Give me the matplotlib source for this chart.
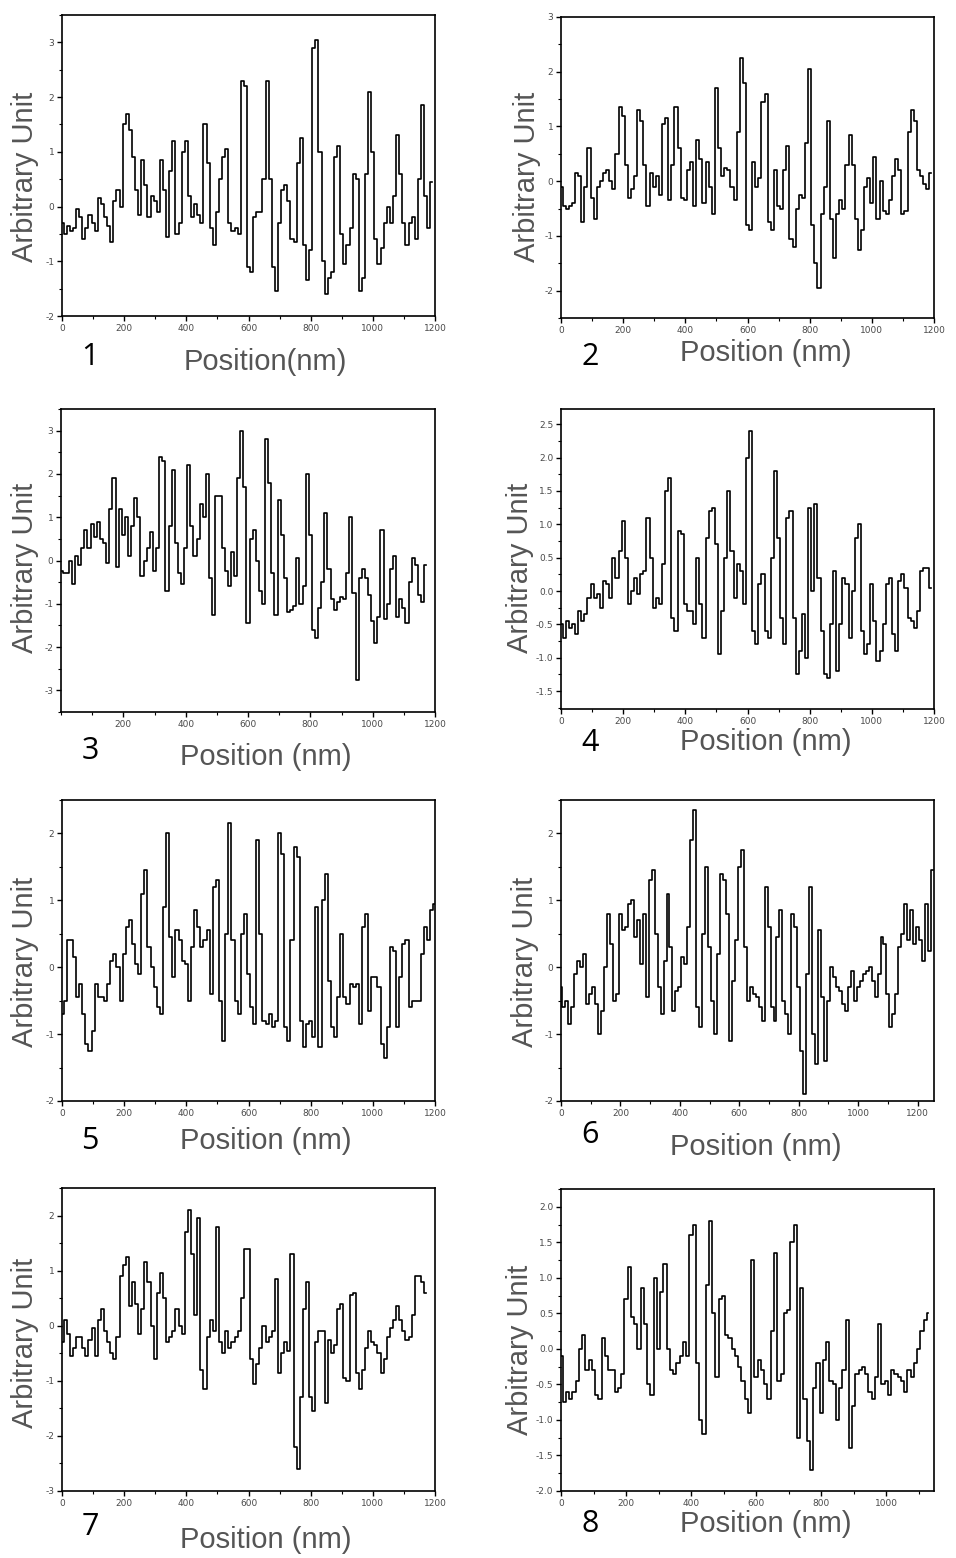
import numpy as np
import matplotlib
matplotlib.use("Agg")
import matplotlib.pyplot as plt
from matplotlib.ticker import MultipleLocator, FixedLocator

STEP = 10
p1 = [-0.3,-0.5,-0.35,-0.45,-0.4,-0.05,-0.2,-0.6,-0.4,-0.15,
      -0.3,-0.45,0.15,0.05,-0.2,-0.35,-0.65,0.1,0.3,0.0,
      1.5,1.7,1.4,0.9,0.3,-0.15,0.85,0.4,-0.2,0.2,
      0.1,-0.1,0.85,0.3,-0.55,0.65,1.2,-0.5,-0.3,1.0,
      1.2,0.2,-0.2,0.05,-0.15,-0.3,1.5,0.8,-0.4,-0.7,
      -0.1,0.5,0.9,1.05,-0.3,-0.45,-0.4,-0.5,2.3,2.2,
      -1.1,-1.2,-0.2,-0.1,-0.1,0.5,2.3,0.5,-1.1,-1.55,
      -0.3,0.3,0.4,0.1,-0.6,-0.65,0.8,1.25,-0.7,-1.35,
      -0.8,2.9,3.05,1.0,-1.0,-1.6,-1.3,-1.2,0.9,1.1,
      -0.5,-1.05,-0.7,-0.4,0.6,0.5,-1.55,-1.3,0.6,2.1,
      1.0,-0.6,-1.05,-0.75,-0.3,0.0,-0.3,0.2,1.3,0.6,
      -0.3,-0.7,-0.3,-0.2,-0.6,0.5,1.85,0.2,-0.4,0.45]
p2 = [-0.1,-0.45,-0.5,-0.45,-0.4,0.15,0.1,-0.75,-0.1,0.6,
      -0.3,-0.7,-0.1,0.0,0.15,0.2,0.0,-0.15,0.5,1.35,
      1.2,0.3,-0.3,-0.15,0.1,1.3,1.1,0.3,-0.45,0.15,
      -0.1,0.1,-0.25,1.05,1.15,-0.35,0.3,1.35,0.6,-0.3,
      -0.35,0.2,0.35,-0.45,0.75,0.4,-0.4,0.35,-0.1,-0.6,
      1.7,0.6,0.1,0.25,0.2,-0.1,-0.35,0.9,2.25,1.8,
      -0.8,-0.9,0.35,-0.1,0.05,1.45,1.6,-0.75,-0.9,0.2,
      -0.45,-0.5,0.2,0.65,-1.05,-1.2,-0.5,-0.25,-0.3,0.7,
      2.05,-0.8,-1.5,-1.95,-0.6,-0.1,1.1,-0.7,-1.4,-0.6,
      -0.35,-0.5,0.3,0.85,0.3,-0.7,-1.25,-0.9,-0.1,0.05,
      -0.4,0.45,-0.7,0.0,-0.55,-0.6,-0.35,0.1,0.4,0.2,
      -0.6,-0.55,0.9,1.3,1.1,0.2,0.1,-0.05,-0.15,0.15]
p3 = [-0.25,-0.3,-0.3,0.0,-0.55,0.1,-0.1,0.3,0.7,0.3,
      0.85,0.55,0.9,0.5,0.4,-0.05,1.2,1.9,-0.15,1.2,
      0.6,1.0,0.1,0.8,1.45,1.0,-0.35,0.0,0.3,0.65,
      -0.25,0.3,2.4,2.3,-0.7,0.8,2.1,0.4,-0.3,-0.55,
      0.3,2.2,0.8,0.1,0.5,1.3,1.0,2.0,-0.4,-1.25,
      1.5,1.5,0.3,-0.25,-0.6,0.2,-0.35,1.9,3.0,1.7,
      -1.45,0.5,0.7,0.0,-0.7,-1.0,2.8,1.8,-0.3,-1.25,
      1.4,0.6,-0.4,-1.2,-1.15,-1.05,0.05,-1.0,-0.6,2.0,
      0.6,-1.6,-1.8,-1.1,-0.5,1.1,-0.2,-0.9,-1.15,-0.95,
      -0.85,-0.9,-0.3,1.0,-0.75,-2.75,-0.4,-0.2,-0.4,-0.8,
      -1.4,-1.9,-1.3,0.7,-1.35,-1.0,-0.2,0.1,-1.3,-0.9,
      -1.1,-1.45,-0.5,0.05,-0.1,-0.8,-0.95,-0.1]
p4 = [-0.5,-0.7,-0.45,-0.55,-0.5,-0.65,-0.3,-0.45,-0.35,-0.1,
      0.1,-0.1,-0.05,-0.25,0.15,0.1,-0.1,0.5,0.2,0.6,
      1.05,0.5,-0.2,0.0,0.2,-0.05,0.25,0.3,1.1,0.5,
      -0.25,-0.1,-0.2,0.4,1.5,1.7,-0.4,-0.6,0.9,0.85,
      -0.2,-0.3,-0.3,-0.5,0.5,-0.2,-0.7,0.8,1.2,1.25,
      0.7,-0.95,-0.3,0.5,1.5,0.6,-0.1,0.4,0.3,-0.2,
      2.0,2.4,-0.6,-0.8,0.1,0.25,-0.6,-0.7,0.5,1.8,
      0.8,-0.4,-0.8,1.1,1.2,-0.4,-1.25,-0.9,-0.35,-1.0,
      1.25,0.0,1.3,0.2,-0.6,-1.25,-1.3,-0.5,0.3,-1.2,
      -0.5,0.2,0.1,-0.7,0.0,0.8,1.0,-0.6,-0.95,-0.8,
      0.1,-0.45,-1.05,-0.9,-0.5,0.1,0.2,-0.65,-0.9,0.15,
      0.25,0.05,-0.4,-0.45,-0.55,-0.3,0.3,0.35,0.35,0.05]
p5 = [-0.7,-0.5,0.4,0.4,0.15,-0.45,-0.25,-0.7,-1.15,-1.25,
      -0.95,-0.25,-0.45,-0.45,-0.5,-0.25,0.1,0.2,0.0,-0.5,
      0.2,0.6,0.7,0.35,0.05,-0.1,1.1,1.45,0.3,0.0,
      -0.3,-0.6,-0.7,0.9,2.0,0.45,-0.15,0.55,0.4,0.1,
      0.05,-0.5,0.3,0.85,0.6,0.3,0.4,0.55,-0.4,1.2,
      1.3,-0.5,-1.1,0.5,2.15,0.4,-0.5,-0.7,0.5,0.8,
      -0.1,-0.6,-0.85,1.9,0.5,-0.8,-0.85,-0.7,-0.9,-0.8,
      2.0,1.7,-0.9,-1.1,0.4,1.8,1.65,-0.8,-1.2,-0.85,
      -0.8,-1.05,0.9,-1.2,1.0,1.4,-0.2,-0.9,-1.05,-0.45,
      0.5,-0.45,-0.55,-0.25,-0.3,-0.25,-0.85,0.6,0.8,-0.65,
      -0.15,-0.15,-0.3,-1.15,-1.35,-0.9,0.3,0.25,-0.9,-0.15,
      0.35,0.4,-0.6,-0.5,-0.5,-0.5,0.2,0.6,0.4,0.85,0.95]
p6 = [-0.3,-0.6,-0.5,-0.85,-0.6,-0.1,0.1,0.0,0.2,-0.55,
      -0.4,-0.3,-0.55,-1.0,-0.65,0.0,0.8,0.35,-0.5,-0.4,
      0.8,0.55,0.6,0.95,1.0,0.45,0.7,0.05,0.8,-0.45,
      1.3,1.45,0.5,-0.3,-0.7,0.1,1.1,0.3,-0.65,-0.35,
      -0.3,0.15,0.05,0.6,1.9,2.35,-0.6,-0.9,0.5,1.5,
      0.3,-0.5,-1.0,0.2,1.4,1.3,0.8,-1.1,-0.2,0.4,
      1.5,1.75,0.3,-0.5,-0.3,-0.4,-0.45,-0.6,-0.8,1.2,
      0.6,-0.6,-0.8,0.45,0.85,-0.5,-0.7,-1.0,0.8,0.6,
      -0.3,-1.25,-1.9,-0.1,1.2,-1.0,-1.45,0.55,-0.45,-1.4,
      -0.5,0.0,-0.15,-0.3,-0.35,-0.55,-0.65,-0.3,-0.05,-0.5,
      -0.3,-0.2,-0.1,-0.05,0.0,-0.2,-0.45,-0.1,0.45,0.35,
      -0.4,-0.9,-0.7,-0.4,0.3,0.5,0.95,0.4,0.85,0.35,
      0.6,0.4,0.1,0.95,0.25,1.45]
p7 = [-0.3,0.1,-0.15,-0.55,-0.4,-0.2,-0.2,-0.4,-0.55,-0.25,
      -0.05,-0.55,0.1,0.3,-0.1,-0.3,-0.5,-0.6,-0.2,0.9,
      1.1,1.25,0.35,0.8,0.4,-0.15,0.3,1.15,0.8,0.0,
      -0.6,0.6,0.95,0.5,-0.3,-0.2,-0.1,0.3,0.0,-0.15,
      1.7,2.1,1.3,0.2,1.95,-0.8,-1.15,-0.2,0.1,-0.1,
      1.8,-0.3,-0.5,-0.1,-0.4,-0.3,-0.2,-0.1,0.5,1.4,
      1.4,-0.6,-1.05,-0.7,-0.4,0.0,-0.3,-0.2,-0.1,0.85,
      -0.85,-0.5,-0.3,-0.45,1.3,-2.2,-2.6,-1.3,0.3,0.8,
      -1.3,-1.55,-0.3,-0.1,-0.1,-1.4,-0.25,-0.5,-0.35,0.3,
      0.4,-0.95,-1.0,0.55,0.6,-0.85,-1.15,-0.8,-0.4,-0.1,
      -0.3,-0.35,-0.5,-0.85,-0.6,-0.2,-0.05,0.1,0.35,0.1,
      -0.1,-0.25,-0.2,0.2,0.9,0.9,0.8,0.6]
p8 = [-0.1,-0.75,-0.6,-0.7,-0.6,-0.45,0.0,0.2,-0.3,-0.15,
      -0.3,-0.65,-0.7,0.15,-0.1,-0.3,-0.3,-0.6,-0.55,-0.35,
      0.7,1.15,0.45,0.35,0.0,0.85,0.35,-0.5,-0.65,1.0,
      0.0,0.8,1.2,0.0,-0.3,-0.35,-0.2,-0.1,0.1,-0.1,
      1.6,1.75,-0.2,-1.0,-1.2,0.9,1.8,0.5,-0.4,0.7,
      0.75,0.2,0.15,0.0,-0.1,-0.25,-0.45,-0.7,-0.9,1.25,
      -0.4,-0.15,-0.3,-0.5,-0.7,0.25,1.35,-0.45,-0.35,0.5,
      0.55,1.5,1.75,-1.25,0.85,-0.7,-1.3,-1.7,-0.55,-0.2,
      -0.9,-0.15,0.1,-0.45,-0.5,-1.0,-0.55,-0.3,0.4,-1.4,
      -0.8,-0.35,-0.3,-0.25,-0.35,-0.6,-0.7,-0.4,0.35,-0.5,
      -0.45,-0.65,-0.3,-0.35,-0.4,-0.45,-0.6,-0.3,-0.4,-0.2,
      0.0,0.25,0.4,0.5]
profiles = [p1, p2, p3, p4, p5, p6, p7, p8]
labels = ["1", "2", "3", "4", "5", "6", "7", "8"]
xlabels = ["Position(nm)"] + ["Position (nm)"] * 7

# layout in pixels: axes box (l, t, r, b), ylim, y major step, label spots
W, H = 956, 1558
boxes = [(62, 15, 435, 316), (561, 17, 934, 318), (61, 409, 435, 712), (561, 409, 934, 709),
         (62, 800, 435, 1101), (561, 800, 934, 1101), (62, 1188, 435, 1491), (561, 1189, 934, 1491)]
ylims = [(-2, 3.5), (-2.5, 3), (-3.5, 3.5), (-1.77, 2.73), (-2, 2.5), (-2, 2.5), (-3, 2.5), (-2, 2.25)]
ysteps = [1, 1, 1, 0.5, 1, 1, 1, 0.5]
xmax = [1200, 1200, 1200, 1200, 1200, 1255, 1200, 1147]
num_pos = [(90, 357), (590, 357), (90, 751), (590, 743), (90, 1141), (590, 1135), (90, 1527), (590, 1524)]
xl_pos = [(265, 362), (766, 353), (266, 757), (766, 742), (266, 1141), (756, 1147), (266, 1540), (766, 1524)]
yl_pos = [(25, 177), (527, 177), (25, 568), (520, 568), (25, 962), (525, 962), (25, 1343), (520, 1350)]

fig = plt.figure(figsize=(W / 100, H / 100), dpi=100)
grey = "#4a4a4a"
for i, y in enumerate(profiles):
    l, t, r, b = boxes[i]
    ax = fig.add_axes([l / W, 1 - b / H, (r - l) / W, (b - t) / H])
    x = np.arange(len(y)) * STEP
    ax.plot(x, y, color="black", lw=1.2, drawstyle="steps-mid")
    ax.set_xlim(0, xmax[i]); ax.set_ylim(*ylims[i])
    st = ysteps[i]
    lo = np.ceil(ylims[i][0] / st) * st
    ax.yaxis.set_major_locator(FixedLocator(np.arange(lo, ylims[i][1] + 1e-9, st)))
    ax.yaxis.set_minor_locator(MultipleLocator(st / 2))
    if st == 0.5:
        ax.yaxis.set_major_formatter(matplotlib.ticker.FormatStrFormatter("%.1f"))
    else:
        ax.yaxis.set_major_formatter(matplotlib.ticker.FormatStrFormatter("%d"))
    xt = np.arange(200 if i == 2 else 0, 1201, 200)
    ax.xaxis.set_major_locator(FixedLocator(xt))
    ax.xaxis.set_minor_locator(MultipleLocator(100))
    ax.tick_params(which="major", direction="out", length=3.5, width=1, labelsize=6.5,
                   labelcolor=grey, pad=2)
    ax.tick_params(which="minor", direction="out", length=2, width=0.8)
    for s in ax.spines.values():
        s.set_linewidth(1.2)
    fig.text(num_pos[i][0] / W, 1 - num_pos[i][1] / H, labels[i], fontsize=22,
             family="Open Sans", ha="center", va="center")
    fig.text(xl_pos[i][0] / W, 1 - xl_pos[i][1] / H, xlabels[i], fontsize=21,
             family="Liberation Sans", color="#555555", ha="center", va="center")
    fig.text(yl_pos[i][0] / W, 1 - yl_pos[i][1] / H, "Arbitrary Unit", fontsize=21,
             family="Liberation Sans", color="#555555", ha="center", va="center", rotation=90)

fig.savefig("out.png", dpi=100)
